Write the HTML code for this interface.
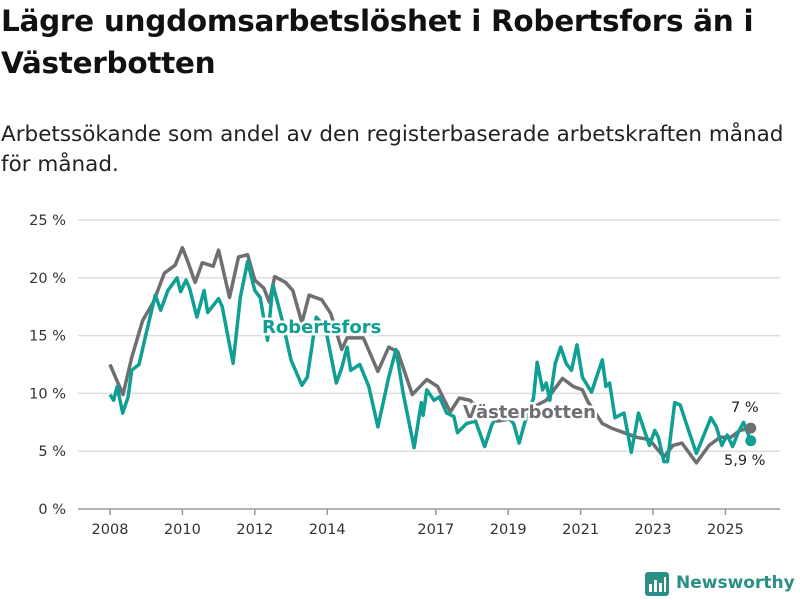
<!DOCTYPE html>
<html><head><meta charset="utf-8">
<style>
body{margin:0;width:800px;height:600px;background:#fff;font-family:"DejaVu Sans",sans-serif;color:#111;overflow:hidden;position:relative}
h1{position:absolute;left:1px;top:0px;margin:0;font-size:29.5px;line-height:42px;font-weight:bold;letter-spacing:-0.3px}
.sub{position:absolute;left:1px;top:120px;margin:0;font-size:21.5px;line-height:30px;color:#222}
svg{position:absolute;left:0;top:0}
</style></head><body>
<h1>Lägre ungdomsarbetslöshet i Robertsfors än i<br>Västerbotten</h1>
<p class="sub">Arbetssökande som andel av den registerbaserade arbetskraften månad<br>för månad.</p>
<svg id="chart" width="800" height="600"></svg>
<script>
const yTicks=[0,5,10,15,20,25];
const xTickYears=[2008,2010,2012,2014,2017,2019,2021,2023,2025];
const vbDates=[2008,2008.36,2008.6,2008.9,2009.2,2009.5,2009.8,2010,2010.15,2010.35,2010.55,2010.85,2011,2011.3,2011.55,2011.8,2012,2012.25,2012.4,2012.55,2012.85,2013.05,2013.3,2013.5,2013.85,2014.1,2014.4,2014.55,2015,2015.4,2015.7,2015.95,2016.35,2016.75,2017.05,2017.4,2017.65,2017.95,2018.3,2018.7,2019.1,2019.5,2019.8,2020.05,2020.5,2020.8,2021.05,2021.2,2021.6,2021.85,2022.2,2022.55,2022.9,2023.3,2023.55,2023.8,2024.2,2024.55,2024.85,2025.15,2025.4,2025.7];
const vbValues=[12.5,9.9,13.1,16.3,17.9,20.4,21.1,22.6,21.4,19.6,21.3,21,22.4,18.3,21.8,22,19.8,19.1,17.9,20.1,19.6,18.9,16.1,18.5,18.1,16.9,13.8,14.8,14.8,11.9,14,13.6,9.9,11.2,10.6,8.4,9.6,9.4,8.2,7.6,7.8,8.5,9,9.4,11.3,10.6,10.3,9.3,7.4,7,6.6,6.2,6,4.5,5.5,5.7,4,5.5,6.2,6.2,6.8,7.0];
const rbDates=[2008,2008.1,2008.2,2008.35,2008.5,2008.6,2008.8,2009,2009.25,2009.4,2009.6,2009.85,2009.95,2010.1,2010.2,2010.4,2010.6,2010.7,2011,2011.1,2011.4,2011.6,2011.8,2012,2012.15,2012.35,2012.5,2012.75,2013,2013.3,2013.45,2013.7,2013.95,2014.25,2014.4,2014.55,2014.65,2014.9,2015.15,2015.4,2015.7,2015.9,2016.1,2016.4,2016.6,2016.65,2016.75,2016.95,2017.1,2017.3,2017.5,2017.6,2017.85,2018.1,2018.35,2018.55,2018.8,2019.15,2019.3,2019.45,2019.7,2019.8,2019.95,2020.05,2020.15,2020.3,2020.45,2020.6,2020.75,2020.9,2021.05,2021.3,2021.6,2021.7,2021.8,2021.95,2022.2,2022.4,2022.6,2022.9,2023.05,2023.15,2023.3,2023.4,2023.6,2023.75,2023.95,2024.2,2024.6,2024.75,2024.9,2025.05,2025.2,2025.35,2025.5,2025.7];
const rbValues=[9.9,9.4,10.6,8.3,9.7,12,12.5,15.2,18.5,17.2,18.9,20,18.8,19.8,19.1,16.6,18.9,17,18.2,17.5,12.6,18.3,21.4,18.9,18.3,14.6,19.4,16.4,12.9,10.7,11.4,16.6,15.7,10.9,12.2,14,12,12.5,10.6,7.1,11.4,13.8,10,5.3,9.2,8.1,10.3,9.4,9.7,8.3,8,6.6,7.4,7.6,5.4,7.3,8.6,7.4,5.7,7.4,9.6,12.7,10.3,10.9,9.4,12.6,14,12.6,12,14.2,11.4,10.1,12.9,10.6,10.9,7.9,8.3,4.9,8.3,5.5,6.8,6.2,4.1,4.1,9.2,9,7.1,4.8,7.9,7.1,5.5,6.4,5.4,6.6,7.5,5.9];
const NS='http://www.w3.org/2000/svg';
const svg=document.getElementById('chart');
const X0=78,X1=780,Y0=509;
function xs(t){return 110+(t-2008)*36.2;}
function ys(v){return Y0-v*11.56;}
function mk(tag,attrs,parent){const e=document.createElementNS(NS,tag);for(const k in attrs)e.setAttribute(k,attrs[k]);(parent||svg).appendChild(e);return e;}
const FF='DejaVu Sans,sans-serif';
yTicks.forEach(v=>{
  const l=mk('line',{x1:X0,x2:X1,y1:ys(v),y2:ys(v),stroke:v===0?'#999':'#ddd','stroke-width':1.5});
  
  
  const t=mk('text',{x:66,y:ys(v)+5,'text-anchor':'end','font-size':14.5,fill:'#333','font-family':FF});
  t.textContent=v+' %';
  
  
});
xTickYears.forEach(y=>{
  const l=mk('line',{x1:xs(y),x2:xs(y),y1:Y0,y2:Y0+6,stroke:'#999','stroke-width':1.5});
  
  
  const t=mk('text',{x:xs(y),y:534,'text-anchor':'middle','font-size':14.5,fill:'#333','font-family':FF});
  t.textContent=y;
  
  
});
function path(d,v){return d.map((t,i)=>(i?'L':'M')+xs(t).toFixed(1)+','+ys(v[i]).toFixed(1)).join('');}
const gl=mk('path',{d:path(vbDates,vbValues),fill:'none',stroke:'#6e6e73','stroke-width':3.5,'stroke-linejoin':'round'});


const tl=mk('path',{d:path(rbDates,rbValues),fill:'none',stroke:'#109f93','stroke-width':3.5,'stroke-linejoin':'round'});


const gd=mk('circle',{cx:xs(vbDates[vbDates.length-1]),cy:ys(vbValues[vbValues.length-1]),r:5.5,fill:'#6e6e73'});


const td=mk('circle',{cx:xs(rbDates[rbDates.length-1]),cy:ys(rbValues[rbValues.length-1]),r:5.5,fill:'#109f93'});


function lbl(txt,x,y,col,name,sz,bold,halo){
  const t=mk('text',{x:x,y:y,'font-size':sz,fill:col,'font-weight':bold?'bold':'normal','font-family':FF});
  if(halo){t.setAttribute('stroke','#fff');t.setAttribute('stroke-width',5);t.setAttribute('paint-order','stroke');}
  t.textContent=txt;
  
  
}
lbl('Robertsfors',262,333,'#109f93','robertsfors-label',18,true,true);
lbl('Västerbotten',463,418,'#6e6e73','vasterbotten-label',18,true,true);
lbl('7 %',731,412,'#222','vasterbotten-end-value',14.5,false,true);
lbl('5,9 %',724,465,'#222','robertsfors-end-value',14.5,false,true);
</script>
<div style="position:absolute;left:645px;top:570px;height:26px;display:flex;align-items:center">
<svg width="24" height="26" style="position:static"><rect x="0" y="2" width="24" height="24" rx="3" fill="#2a8f84"/><rect x="4" y="14" width="3" height="8" fill="#fff"/><rect x="9" y="10" width="3" height="12" fill="#fff"/><rect x="14" y="13" width="3" height="9" fill="#fff"/><rect x="19" y="7" width="2" height="15" fill="#fff"/></svg>
<span style="margin-left:7px;font-size:17px;font-weight:bold;color:#2a8f84">Newsworthy</span></div>
</body></html>
